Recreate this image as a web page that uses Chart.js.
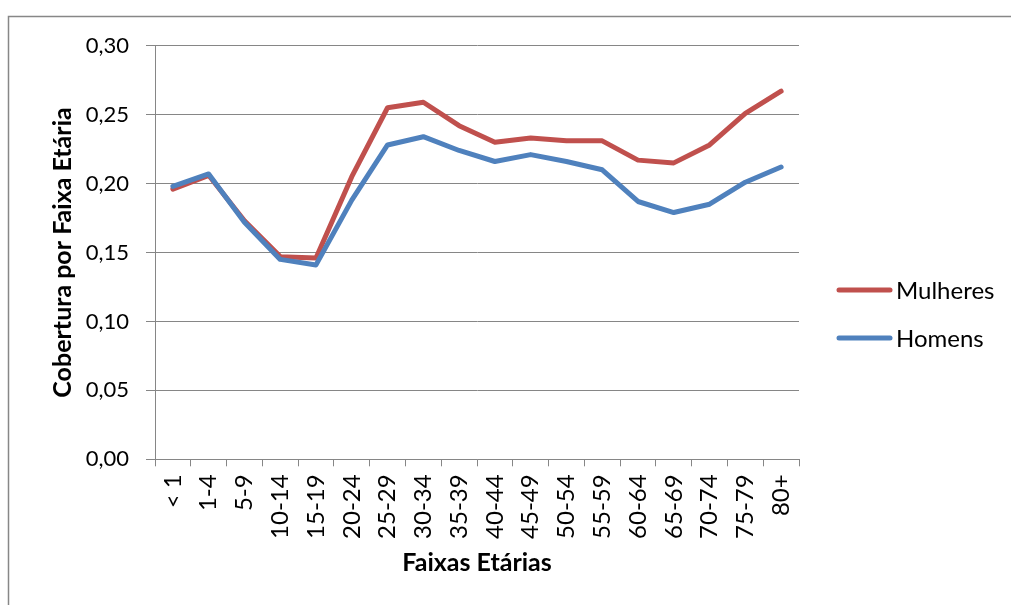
<!DOCTYPE html>
<html>
<head>
<meta charset="utf-8">
<script src="https://cdn.jsdelivr.net/npm/chart.js@4/dist/chart.umd.min.js"></script>
<style>
html,body{margin:0;padding:0;background:#fff;}
#wrap{position:relative;width:1011px;height:605px;}
</style>
</head>
<body>
<div id="wrap"><canvas id="c" width="1011" height="605"></canvas></div>
<script>
const categories = ['< 1','1-4','5-9','10-14','15-19','20-24','25-29','30-34','35-39','40-44','45-49','50-54','55-59','60-64','65-69','70-74','75-79','80+'];
const mulheres = [0.196,0.206,0.173,0.147,0.146,0.205,0.255,0.259,0.242,0.230,0.233,0.231,0.231,0.217,0.215,0.228,0.251,0.267];
const homens   = [0.198,0.207,0.172,0.145,0.141,0.188,0.228,0.234,0.224,0.216,0.221,0.216,0.210,0.187,0.179,0.185,0.201,0.212];
const yTicks = [0, 0.05, 0.10, 0.15, 0.20, 0.25, 0.30];
const seriesNames = ['Mulheres','Homens'];
const seriesColors = ['#C0504D','#4F81BD'];

const FONT = 'Lato, "Liberation Sans", sans-serif';
const GRID = '#868686';

const frame = {
  id: 'frame',
  beforeDraw(chart) {
    const ctx = chart.ctx;
    ctx.save();
    ctx.fillStyle = '#fff';
    ctx.fillRect(0,0,chart.width,chart.height);
    ctx.strokeStyle = '#878787';
    ctx.lineWidth = 1.5;
    ctx.beginPath();
    ctx.moveTo(8.5, 620);
    ctx.lineTo(8.5, 16.5);
    ctx.lineTo(1020, 16.5);
    ctx.stroke();
    ctx.restore();
  }
};

const customLegend = {
  id: 'customLegend',
  afterDraw(chart) {
    const ctx = chart.ctx;
    ctx.save();
    const ys = [290, 338];
    seriesNames.forEach((name, i) => {
      ctx.strokeStyle = seriesColors[i];
      ctx.lineWidth = 5;
      ctx.lineCap = 'round';
      ctx.beginPath();
      ctx.moveTo(839, ys[i]);
      ctx.lineTo(890, ys[i]);
      ctx.stroke();
      ctx.fillStyle = '#000';
      ctx.font = '24px ' + FONT;
      ctx.textBaseline = 'middle';
      ctx.textAlign = 'left';
      ctx.fillText(name, 896, ys[i] + 1);
    });
    ctx.restore();
  }
};

new Chart(document.getElementById('c'), {
  type: 'line',
  data: {
    labels: categories,
    datasets: [
      { label: seriesNames[0], data: mulheres, borderColor: seriesColors[0], backgroundColor: seriesColors[0], borderWidth: 5, pointRadius: 0, tension: 0, order: 1, borderCapStyle: 'round', borderJoinStyle: 'round' },
      { label: seriesNames[1], data: homens, borderColor: seriesColors[1], backgroundColor: seriesColors[1], borderWidth: 5, pointRadius: 0, tension: 0, order: 0, borderCapStyle: 'round', borderJoinStyle: 'round' }
    ]
  },
  options: {
    responsive: false,
    animation: false,
    devicePixelRatio: 1,
    layout: { padding: { left: 48, right: 212, top: 45.7, bottom: 27 } },
    plugins: { legend: { display: false }, tooltip: { enabled: false } },
    scales: {
      x: {
        offset: true,
        grid: { display: true, drawOnChartArea: false, drawTicks: true, tickLength: 7, color: GRID, offset: true, lineWidth: 1 },
        border: { display: true, color: GRID, width: 1 },
        ticks: { minRotation: 90, maxRotation: 90, autoSkip: false, padding: 8, color: '#000', font: { family: FONT, size: 24 } },
        title: { display: true, text: 'Faixas Etárias', color: '#000', font: { family: FONT, size: 25, weight: 'bold' }, padding: 0 },
        afterFit(scale) { scale.height = 605 - 27 - 459.3; }
      },
      y: {
        min: 0, max: 0.30,
        afterBuildTicks(scale) { scale.ticks = yTicks.map(v => ({ value: v })); },
        grid: { color: GRID, lineWidth: 1, drawTicks: true, tickLength: 9 },
        border: { display: true, color: GRID, width: 1 },
        ticks: { padding: 17, color: '#000', font: { family: FONT, size: 22 }, callback: v => v.toFixed(2).replace('.', ',') },
        title: { display: true, text: 'Cobertura por Faixa Etária', color: '#000', font: { family: FONT, size: 25, weight: 'bold' }, padding: 0 },
        afterFit(scale) { scale.width = 155 - 48; }
      }
    }
  },
  plugins: [frame, customLegend]
});
</script>
</body>
</html>
